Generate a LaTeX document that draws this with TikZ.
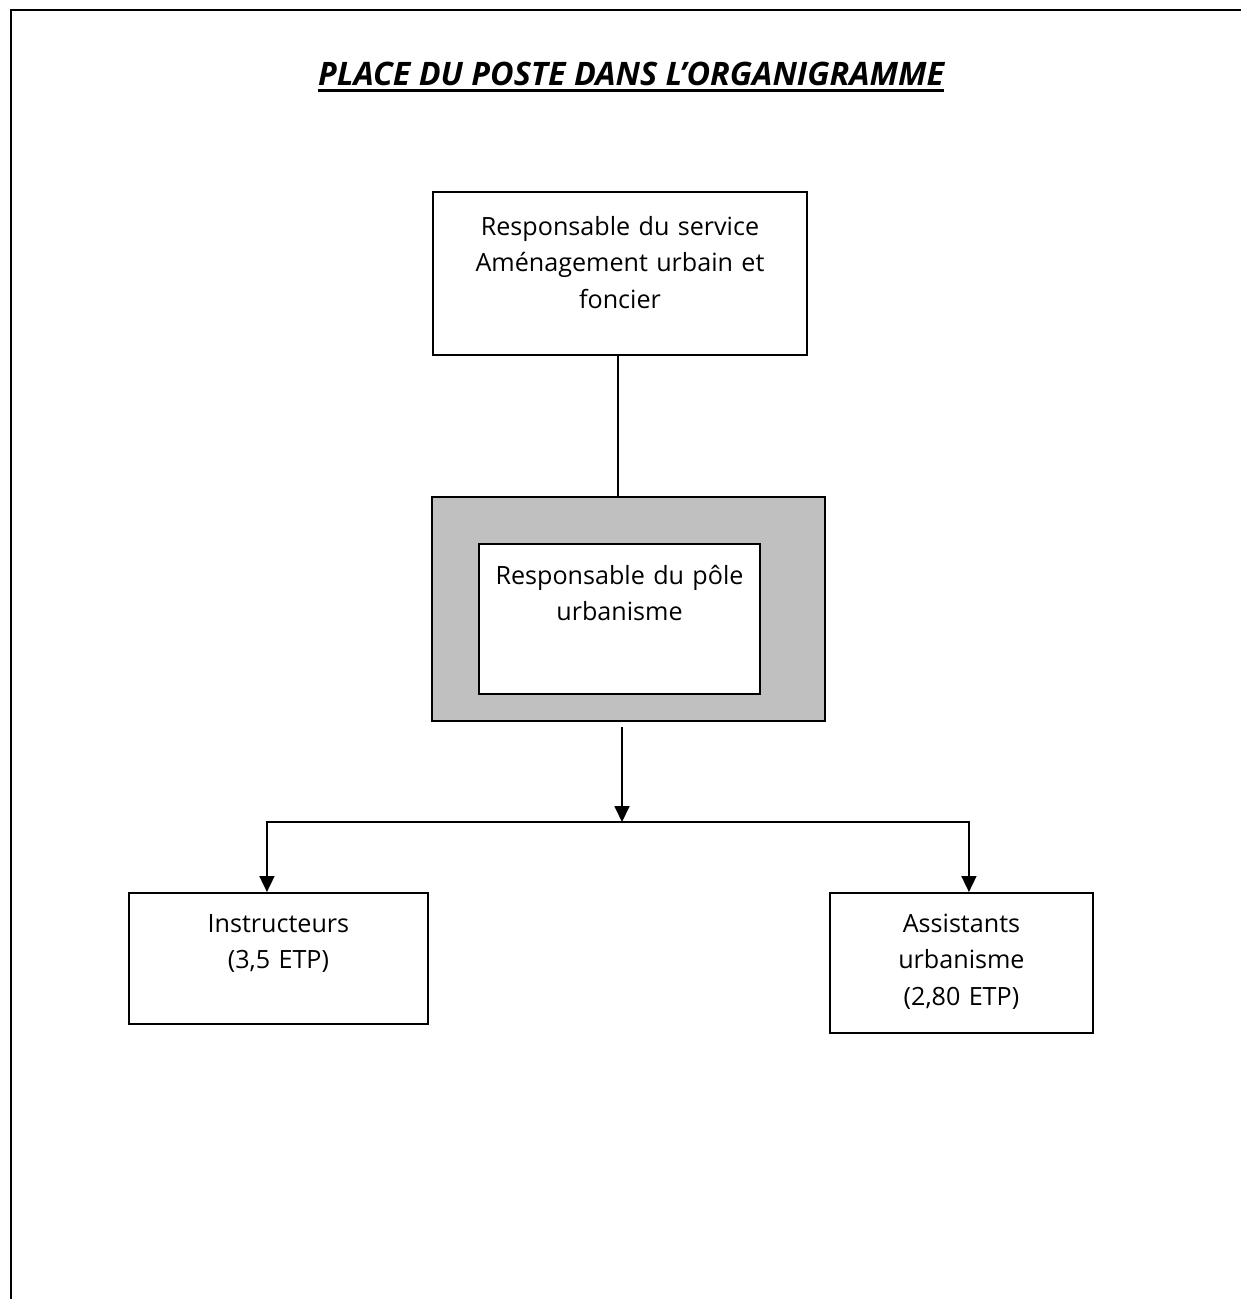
\documentclass[tikz,border=0pt]{standalone}
\usepackage{fontspec}
\setmainfont{Open Sans}
\usepackage{tikz}
\usetikzlibrary{arrows.meta,positioning}
\definecolor{grisfond}{RGB}{192,192,192}
\tikzset{cadre/.style={draw, line width=1.1pt, fill=white, align=center, inner sep=0pt,
    font=\fontsize{14.3}{20.5}\selectfont},
fleche/.style={line width=1pt, -{Triangle[length=.32cm,width=.3cm]}}
}

\begin{document}
\begin{tikzpicture}[x=0.02cm, y=-0.02cm]
      \useasboundingbox (0,0) rectangle (1241,1299);
      % cadre de la page
      \draw[line width=1.5pt] (11,1299) -- (11,10) -- (1241,10);

      \node[inner sep=0pt, font=\fontsize{18.4}{20}\selectfont\bfseries\itshape]
            (titre) at (631,74) {PLACE DU POSTE DANS L'ORGANIGRAMME};
      \draw[line width=1.5pt] ([yshift=-.1cm]titre.base west) -- ([yshift=-.1cm]titre.base east);

      \node[cadre, text width=7.48cm, text height=.88cm, text depth=2.38cm,
            anchor=north] (service) at (620,191)
            {Responsable du service\\Aménagement urbain et\\foncier};
      \node[draw, line width=1.1pt, fill=grisfond, inner sep=0pt, minimum width=7.86cm,
            minimum height=4.48cm, below=2.8cm of service.south, xshift=.17cm] (pole) {};
      \node[cadre, text width=5.62cm, text height=.82cm, text depth=2.18cm,
            anchor=north west] (poletxt) at ([xshift=.94cm, yshift=-.94cm]pole.north west)
            {Responsable du pôle\\urbanisme};
      \node[cadre, text width=5.98cm, text height=.8cm, text depth=1.82cm,
            anchor=north west] (instr) at (128,892) {Instructeurs\\(3,5 ETP)};
      \node[cadre, text width=5.26cm, text height=.8cm, text depth=2cm,
            anchor=north west] (assist) at (829,892) {Assistants\\urbanisme\\(2,80 ETP)};

      \coordinate (depart) at (622,727);
      \coordinate (branche) at (622,822);

      \draw[line width=1pt] (service.south -| 618,0) -- (pole.north -| 618,0);
      \draw[fleche] (depart) -- (branche);
      \draw[fleche] (branche) -| ([xshift=-.23cm]instr.north);
      \draw[fleche] (branche) -| ([xshift=.15cm]assist.north);
    \end{tikzpicture}
\end{document}
